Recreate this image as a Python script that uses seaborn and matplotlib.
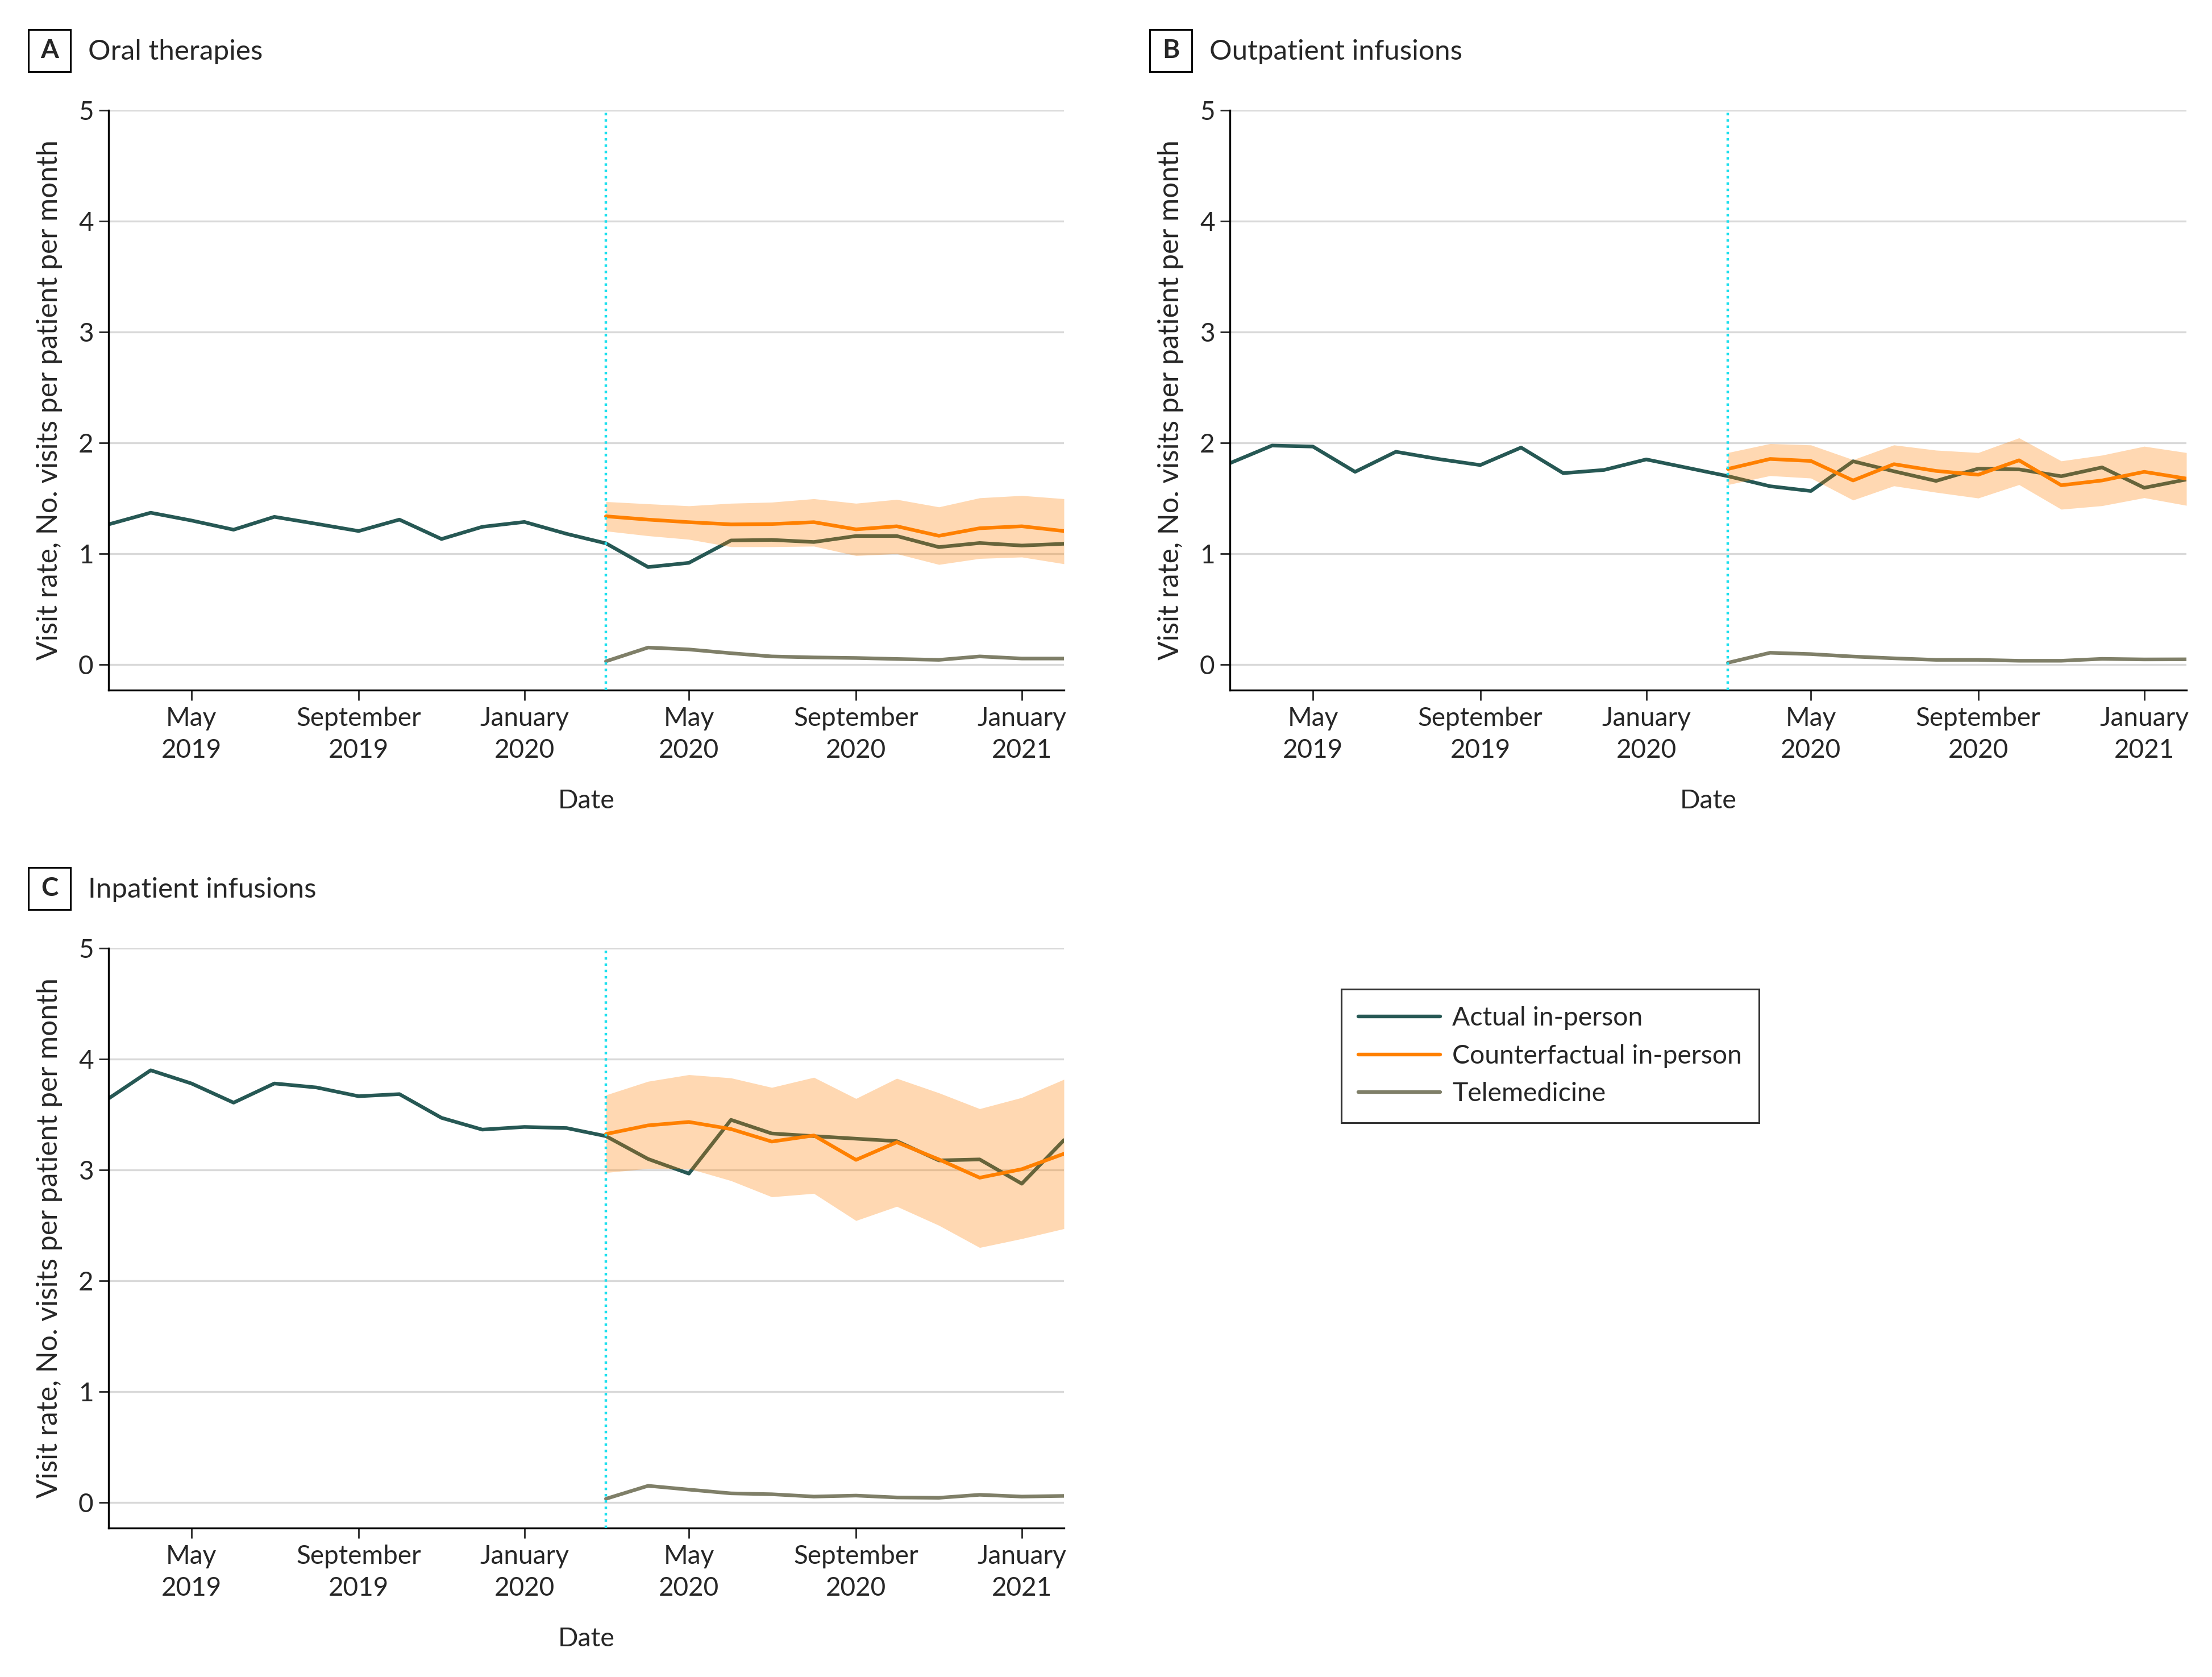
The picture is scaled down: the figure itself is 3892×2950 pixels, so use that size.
import matplotlib
matplotlib.use('Agg')

import pandas as pd
import seaborn as sns
from matplotlib import pyplot as plt
from matplotlib.lines import Line2D
from matplotlib.patches import Rectangle

# monthly points, March 2019 to February 2021; intervention line at March 2020
months = pd.date_range('2019-03-01', '2021-02-01', freq='MS')
post_months = months[12:]
cutoff = pd.Timestamp('2020-03-01')

tick_dates = pd.to_datetime(['2019-05-01', '2019-09-01', '2020-01-01',
                             '2020-05-01', '2020-09-01', '2021-01-01'])
tick_labels = ['May\n2019', 'September\n2019', 'January\n2020',
               'May\n2020', 'September\n2020', 'January\n2021']

# A - oral therapies
oral_actual = [1.265, 1.37, 1.30, 1.217, 1.333, 1.27, 1.205, 1.308, 1.133, 1.243, 1.287, 1.18,
               1.094, 0.88, 0.918, 1.12, 1.125, 1.106, 1.16, 1.16, 1.06, 1.097, 1.074, 1.09]
oral_cf = [1.338, 1.308, 1.285, 1.265, 1.268, 1.285, 1.22, 1.248, 1.162, 1.23, 1.248, 1.205]
oral_lo = [1.205, 1.162, 1.13, 1.063, 1.063, 1.068, 0.983, 1.0, 0.903, 0.957, 0.97, 0.909]
oral_hi = [1.47, 1.45, 1.432, 1.455, 1.465, 1.496, 1.455, 1.49, 1.422, 1.504, 1.525, 1.496]
oral_tele = [0.03, 0.154, 0.137, 0.103, 0.074, 0.065, 0.06, 0.051, 0.043, 0.074, 0.055, 0.055]

# B - outpatient infusions
outpt_actual = [1.817, 1.976, 1.967, 1.739, 1.92, 1.855, 1.80, 1.958, 1.727, 1.756, 1.851, 1.773,
                1.70, 1.609, 1.566, 1.834, 1.744, 1.657, 1.768, 1.761, 1.699, 1.779, 1.595, 1.67]
outpt_cf = [1.765, 1.855, 1.837, 1.661, 1.808, 1.747, 1.713, 1.843, 1.618, 1.661, 1.739, 1.678]
outpt_lo = [1.623, 1.704, 1.682, 1.484, 1.612, 1.554, 1.502, 1.623, 1.401, 1.433, 1.505, 1.436]
outpt_hi = [1.912, 1.993, 1.981, 1.848, 1.981, 1.934, 1.912, 2.045, 1.837, 1.889, 1.969, 1.912]
outpt_tele = [0.017, 0.107, 0.095, 0.073, 0.057, 0.043, 0.043, 0.035, 0.035, 0.052, 0.047, 0.048]

# C - inpatient infusions
inpt_actual = [3.644, 3.899, 3.78, 3.607, 3.78, 3.744, 3.665, 3.684, 3.47, 3.364, 3.388, 3.378,
               3.305, 3.099, 2.967, 3.452, 3.329, 3.305, 3.282, 3.26, 3.086, 3.095, 2.876, 3.269]
inpt_cf = [3.324, 3.402, 3.433, 3.369, 3.256, 3.311, 3.091, 3.25, 3.095, 2.93, 3.007, 3.146]
inpt_lo = [2.976, 3.013, 3.013, 2.903, 2.757, 2.788, 2.543, 2.671, 2.5, 2.30, 2.38, 2.47]
inpt_hi = [3.676, 3.799, 3.859, 3.83, 3.744, 3.835, 3.644, 3.826, 3.695, 3.552, 3.653, 3.817]
inpt_tele = [0.034, 0.151, 0.117, 0.083, 0.075, 0.054, 0.063, 0.046, 0.043, 0.07, 0.054, 0.06]

ACTUAL_C = '#265854'
CF_C = '#ff8000'
TELE_C = '#7f7f68'
CUT_C = '#1fe0ee'
GRID_C = '#d9d9d9'
LW = 2.3

sns.set_theme(style='white')
plt.rcParams['font.family'] = ['Lato', 'DejaVu Sans']
plt.rcParams['font.size'] = 16.5

W, H = 3892, 2950
fig = plt.figure(figsize=(W / 200, H / 200), dpi=200)


def px_box(left, top, right, bottom):
    return [left / W, 1 - bottom / H, (right - left) / W, (bottom - top) / H]


def panel_label(letter, title, left, top):
    size = 74
    fig.patches.append(Rectangle((left / W, 1 - (top + size) / H), size / W, size / H,
                                 transform=fig.transFigure, fill=False, ec='black', lw=1.1))
    fig.text((left + size / 2) / W, 1 - (top + size / 2) / H, letter, ha='center', va='center',
             fontweight='bold', fontsize=16.5)
    fig.text((left + 105) / W, 1 - (top + 53) / H, title, ha='left', va='baseline', fontsize=17.8)


def draw_panel(ax, actual, cf, lo, hi, tele):
    df = pd.DataFrame({'Date': months, 'rate': actual})
    sns.lineplot(data=df, x='Date', y='rate', color=ACTUAL_C, lw=LW, ax=ax, zorder=2)
    ax.fill_between(post_months, lo, hi, color=CF_C, alpha=0.3, lw=0, zorder=3)
    post = pd.DataFrame({'Date': post_months, 'cf': cf, 'tele': tele})
    sns.lineplot(data=post, x='Date', y='cf', color=CF_C, lw=LW, ax=ax, zorder=4)
    sns.lineplot(data=post, x='Date', y='tele', color=TELE_C, lw=LW, ax=ax, zorder=4)
    ax.axvline(cutoff, color=CUT_C, lw=1.6, ls=(0, (1, 1.5)), zorder=5)

    ax.set_xlim(months[0], months[-1])
    ax.set_ylim(-0.23, 5)
    ax.set_yticks(range(6))
    ax.set_xticks(tick_dates)
    ax.set_xticklabels(tick_labels, linespacing=1.4)
    ax.grid(axis='y', color=GRID_C, lw=1.2)
    ax.grid(axis='x', visible=False)
    ax.set_axisbelow(True)
    for s in ['top', 'right']:
        ax.spines[s].set_visible(False)
    for s in ['left', 'bottom']:
        ax.spines[s].set_color('black')
        ax.spines[s].set_linewidth(1.2)
    ax.tick_params(axis='y', left=True, length=6, width=1, pad=3.5, labelsize=16.5)
    ax.tick_params(axis='x', bottom=True, length=6.5, width=1, pad=4, labelsize=16.5)
    ax.set_xlabel('Date', fontsize=16.8, labelpad=17)
    ax.set_ylabel('Visit rate, No. visits per patient per month', fontsize=17.9, labelpad=10)


ax_a = fig.add_axes(px_box(191, 194, 1872, 1214))
ax_b = fig.add_axes(px_box(2164, 194, 3847, 1214))
ax_c = fig.add_axes(px_box(191, 1668, 1872, 2688))

draw_panel(ax_a, oral_actual, oral_cf, oral_lo, oral_hi, oral_tele)
draw_panel(ax_b, outpt_actual, outpt_cf, outpt_lo, outpt_hi, outpt_tele)
draw_panel(ax_c, inpt_actual, inpt_cf, inpt_lo, inpt_hi, inpt_tele)

panel_label('A', 'Oral therapies', 50, 52)
panel_label('B', 'Outpatient infusions', 2023, 52)
panel_label('C', 'Inpatient infusions', 50, 1526)

handles = [Line2D([], [], color=ACTUAL_C, lw=LW),
           Line2D([], [], color=CF_C, lw=LW),
           Line2D([], [], color=TELE_C, lw=LW)]
leg = fig.legend(handles, ['Actual in-person', 'Counterfactual in-person', 'Telemedicine'],
                 loc='upper left', bbox_to_anchor=(2360 / W, 1 - 1740 / H),
                 frameon=True, fancybox=False, edgecolor='black', fontsize=16.7,
                 handlelength=3.1, handletextpad=0.45, labelspacing=0.53, borderpad=0.65,
                 borderaxespad=0)
leg.get_frame().set_linewidth(1.1)

fig.savefig('out.png', dpi=200, facecolor='white')
